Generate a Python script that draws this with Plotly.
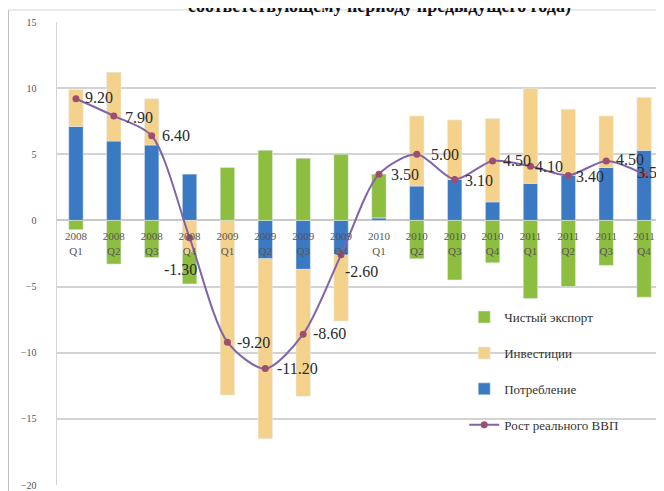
import plotly.graph_objects as go

COLORS = {
    "export": "#8DBE3F",
    "invest": "#F5D28C",
    "consum": "#3B79C3",
    "gdp": "#8064A8",
    "marker": "#9C4F6E",
}

quarters = [
    "2008<br>Q1", "2008<br>Q2", "2008<br>Q3", "2008<br>Q4",
    "2009<br>Q1", "2009<br>Q2", "2009<br>Q3", "2009<br>Q4",
    "2010<br>Q1", "2010<br>Q2", "2010<br>Q3", "2010<br>Q4",
    "2011<br>Q1", "2011<br>Q2", "2011<br>Q3", "2011<br>Q4",
]
consumption = [7.1, 6.0, 5.7, 3.5, 0.0, -2.9, -3.7, -2.6, 0.2, 2.6, 3.1, 1.4, 2.8, 3.4, 4.0, 5.3]
investment = [2.8, 5.2, 3.5, -2.5, -13.2, -13.6, -9.6, -5.0, 0.0, 5.3, 4.5, 6.3, 7.2, 5.0, 3.9, 4.0]
net_export = [-0.7, -3.3, -2.8, -2.3, 4.0, 5.3, 4.7, 5.0, 3.3, -2.9, -4.5, -3.2, -5.9, -5.0, -3.4, -5.8]
gdp_growth = [9.2, 7.9, 6.4, -1.3, -9.2, -11.2, -8.6, -2.6, 3.5, 5.0, 3.1, 4.5, 4.1, 3.4, 4.5, 3.5]

# pixel nudges for the data labels (left edge of text relative to the point)
label_dx = [7, 9, 8, -28, 8, 10, 8, 2, 10, 12, 8, 8, 3, 6, 8, -9]
label_dy = [1, -2, 0, -32, 0, 0, 1, -17, 0, 0, -1, 0, 0, -1, 1, 2]

SERIF = "Liberation Serif, Times New Roman, serif"

fig = go.Figure()
fig.add_bar(name="Потребление", x=quarters, y=consumption,
            marker_color=COLORS["consum"], legendrank=3, legendgroup="c")
fig.add_bar(name="Инвестиции", x=quarters, y=investment,
            marker_color=COLORS["invest"], legendrank=2, legendgroup="i")
fig.add_bar(name="Чистый экспорт", x=quarters, y=net_export,
            marker_color=COLORS["export"], legendrank=1, legendgroup="e")
fig.add_scatter(
    name="Рост реального ВВП", x=quarters, y=gdp_growth,
    mode="lines+markers",
    line=dict(color=COLORS["gdp"], width=2, shape="spline", smoothing=0.8),
    marker=dict(size=7, color=COLORS["marker"]),
    legendrank=4, legendgroup="g",
)

for q, v, dx, dy in zip(quarters, gdp_growth, label_dx, label_dy):
    fig.add_annotation(
        x=q, y=v, text=f"{v:.2f}", showarrow=False,
        xanchor="left", yanchor="middle", xshift=dx, yshift=dy,
        font=dict(family=SERIF, size=16, color="#2b2b2b"),
    )

# clipped title at the very top, as in the source scan
fig.add_annotation(
    text="<b>соответствующему периоду предыдущего года)</b>",
    xref="paper", yref="paper", x=0.533, y=1.0, yshift=3,
    showarrow=False, yanchor="bottom",
    font=dict(family=SERIF, size=18, color="#111"),
)
# outer chart frame
fig.add_shape(type="line", xref="paper", yref="paper",
              x0=-0.08, x1=-0.08, y0=-0.02, y1=1.026,
              line=dict(color="#bdbdbd", width=1))
fig.add_shape(type="line", xref="paper", yref="paper",
              x0=-0.08, x1=1.0, y0=1.026, y1=1.026,
              line=dict(color="#d5d5d5", width=1))

# the page body adds an 8px offset, so the figure is sized to fit the window
fig.update_layout(
    barmode="relative",
    bargap=0.62,
    width=656, height=483,
    paper_bgcolor="white",
    plot_bgcolor="white",
    margin=dict(l=49, r=1, t=14, b=6, autoexpand=False),
    font=dict(family=SERIF, color="#444"),
    legend=dict(
        x=0.672, y=0.395, xanchor="left", yanchor="top",
        traceorder="grouped", tracegroupgap=16,
        font=dict(family=SERIF, size=13, color="#333"),
        bgcolor="rgba(0,0,0,0)",
        itemwidth=30,
    ),
    xaxis=dict(
        anchor="free", position=20 / 35, automargin=False,
        range=[-0.5, 15.5],
        showline=False, ticks="",
        ticklabelstandoff=8,
        tickfont=dict(family=SERIF, size=11, color="#555"),
        showgrid=False,
    ),
    yaxis=dict(
        range=[-20, 15], dtick=5, automargin=False,
        showgrid=True, gridcolor="#d3d3d3", gridwidth=1.5,
        zeroline=True, zerolinecolor="#c8c8c8", zerolinewidth=1.5,
        showline=True, linecolor="#d3d3d3",
        ticks="", ticksuffix="\u00a0" * 7,
        tickfont=dict(family=SERIF, size=10, color="#555"),
    ),
)

fig.write_html("out.html")
